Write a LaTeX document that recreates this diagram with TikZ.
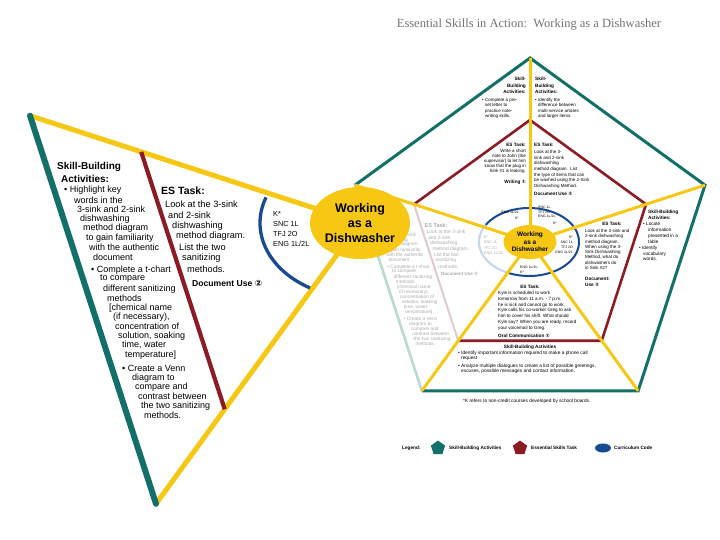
\documentclass[tikz,border=0pt]{standalone}
\usepackage{fontspec}
\setmainfont{Liberation Sans}
\newfontfamily\titlefont{Liberation Serif}
\newfontfamily\symfont{DejaVu Sans}
\usetikzlibrary{shapes.geometric}

\definecolor{sbteal}{RGB}{18,112,104}
\definecolor{estred}{RGB}{140,28,36}
\definecolor{spoke}{RGB}{246,200,20}
\definecolor{codeblue}{RGB}{24,74,148}
\definecolor{tealfade}{RGB}{185,218,212}
\definecolor{redfade}{RGB}{226,202,204}
\definecolor{bluefade}{RGB}{196,214,232}
\definecolor{textfade}{RGB}{172,172,172}

\newcommand{\circnum}[1]{{\symfont #1}}
\newcommand{\sbskip}{0}% lines of the sector text hidden under the big hub

\tikzset{
  tealline/.style={draw=sbteal, line width=3pt},
  redline/.style={draw=estred, line width=2.6pt},
  spokeline/.style={draw=spoke, line width=3pt},
  edgeteal/.style={draw=sbteal, line width=6pt, line cap=round},
  edgered/.style={draw=estred, line width=4.2pt},
  edgeyellow/.style={draw=spoke, line width=5pt},
  sbline/.style={anchor=west, inner sep=0pt, font=\fontsize{9}{10}\selectfont},
  esline/.style={anchor=west, inner sep=0pt, font=\fontsize{9.2}{11}\selectfont},
  codeline/.style={inner sep=0pt, font=\fontsize{7.3}{10}\selectfont},
  tiny/.style={inner sep=0pt, font=\fontsize{4.5}{5.3}\selectfont},
  tinyb/.style={inner sep=0pt, font=\bfseries\fontsize{4.7}{6.5}\selectfont},
  code/.style={inner sep=0pt, font=\fontsize{3.5}{5}\selectfont},
  hub/.style={ellipse, fill=spoke, inner sep=0pt, align=center},
  legendshape/.style={fill=#1, inner sep=0pt},
}

% corners of the magnified sector
\newcommand{\sectorcoords}{%
  \coordinate (wT) at (30,115.7);
  \coordinate (wB) at (156,503.8);
  \coordinate (wR1) at (141.2,151.9);
  \coordinate (wR2) at (224.7,409.2);
}

% one sector of the pentagon: drawn big in the wedge and faded in place
\newcommand{\sectorbody}{%
  \sectorcoords
  \draw[edgeteal] (wT) -- (wB);
  \draw[edgered] (wR1) -- (wR2);
  \foreach \x/\y/\t [count=\i] in {57/167/{\bfseries\fontsize{10}{12}\selectfont Skill-Building},
      61/179/{\bfseries\fontsize{10}{12}\selectfont Activities:},
      64/190/{• Highlight key}, 74/200/{words in the}, 77/209/{3-sink and 2-sink},
      80/219/{dishwashing}, 83/228/{method diagram}, 86/238/{to gain familiarity},
      89/247/{with the authentic}, 93/257/{document},
      91/270/{• Complete a t-chart}, 100/279/{to compare}, 103/289/{different sanitizing},
      107/298/{methods}, 109/308/{[chemical name}, 113/317/{(if necessary),},
      115/326/{concentration of}, 118/336/{solution, soaking}, 122/345/{time, water},
      125/355/{temperature]},
      122/368/{• Create a Venn}, 132/378/{diagram to}, 135/387/{compare and},
      138/396/{contrast between}, 141/406/{the two sanitizing}, 144/415/{methods.}}
    {\ifnum\i>\sbskip\relax \node[sbline] (sb\i) at (\x,\y) {\t};\fi}
  \node[esline, font=\bfseries\fontsize{10.5}{12}\selectfont] (eshead) at (161,191) {ES Task:};
  \foreach \x/\y/\t [count=\i] in {165/204/{Look at the 3-sink}, 168/215/{and 2-sink},
      172/226/{dishwashing}, 176/236/{method diagram.}, 179/247/{List the two},
      182/258/{sanitizing}, 187/269/{methods.}}
    \node[esline] (es\i) at (\x,\y) {\t};
  \node[esline, font=\bfseries\fontsize{8.6}{10}\selectfont] (esuse) at (192,283) {Document Use \circnum{②}};
  \node[codeline, anchor=north west, align=left] (codes) at (273,211) {K*\\SNC 1L\\TFJ 2O\\ENG 1L/2L};
}

\begin{document}
\begin{tikzpicture}[x=1pt, y=-1pt]
  \useasboundingbox (0,0) rectangle (720,540);
  \fill[white] (0,0) rectangle (720,540);
  \coordinate (C) at (530,242);
  \coordinate (A) at (360,223);
  \foreach \k in {0,...,4}{
    \coordinate (P\k) at ({530+184*cos(90+72*\k)},{242-184*sin(90+72*\k)});
    \coordinate (Q\k) at ({530+122*cos(90+72*\k)},{242-122*sin(90+72*\k)});
  }

  % faded copy of the magnified sector
  \begin{scope}[shift={(339.1,123.8)}, scale=0.5302, transform shape, name prefix=sm-,
      edgeteal/.style={draw=tealfade, line width=2.6pt},
      edgered/.style={draw=redfade, line width=2pt},
      every node/.append style={text=textfade}]
    \renewcommand{\sbskip}{4}
    \sectorbody
  \end{scope}

  % pentagon
  \draw[tealline] (P1) -- (P0) -- (P4) -- (P3) -- (P2);
  \draw[redline] (Q1) -- (Q0) -- (Q4) -- (Q3) -- (Q2);
  \draw[codeblue, line width=2pt] plot[domain=210:476, samples=90] ({529+50*cos(\x)},{242+34*sin(\x)});
  \draw[bluefade, line width=2pt] plot[domain=116:210, samples=40] ({529+50*cos(\x)},{242+34*sin(\x)});
  \foreach \k in {0,...,4}
    \draw[spokeline] (C) -- (P\k);
  \node[hub, minimum width=53, minimum height=34, font=\bfseries\fontsize{6.5}{7.5}\selectfont] (hub) at (C) {Working\\as a\\Dishwasher};

  % magnified sector
  \sectorcoords
  \draw[edgeyellow] (A) -- (wT);
  \draw[edgeyellow] (A) -- (wB);
  \draw[codeblue, line width=3.3pt] plot[domain=120:200, samples=40] ({360+100*cos(\x)},{223+75*sin(\x)});
  \sectorbody
  \node[hub, minimum width=100, minimum height=72, font=\bfseries\fontsize{12.5}{15}\selectfont] (bighub) at (A) {Working\\as a\\Dishwasher};

  % texts in the pentagon
  \node[tinyb, anchor=north east, align=right] (tlsb) at (526,77) {Skill-\\Building\\Activities:};
  \node[tiny, anchor=north west, align=left] (tlsbtxt) at (482,98) {• Complete a pre-\\\phantom{•~}set letter to\\\phantom{•~}practice note-\\\phantom{•~}writing skills.};
  \node[tinyb, anchor=north west, align=left] (trsb) at (535,77) {Skill-\\Building\\Activities:};
  \node[tiny, anchor=north west, align=left] (trsbtxt) at (535,98) {• Identify the\\\phantom{•~}difference between\\\phantom{•~}multi-service articles\\\phantom{•~}and larger items.};

  \node[tinyb, anchor=north east] (tles) at (526,143) {ES Task:};
  \node[tiny, anchor=north east, align=right, font=\fontsize{4.5}{4.9}\selectfont] (tlestxt) at (526,149) {Write a short\\note to John (the\\supervisor) to let him\\know that the plug in\\Sink \#1 is leaking.};
  \node[tinyb, anchor=north east] (tlesuse) at (526,180) {Writing \circnum{①}};
  \node[tinyb, anchor=north west] (tres) at (534,143) {ES Task:};
  \node[tiny, anchor=north west, align=left, font=\fontsize{4.5}{5.7}\selectfont] (trestxt) at (534,150) {Look at the 3-\\sink and 2-sink\\dishwashing\\method diagram.\ \ List\\the type of items that can\\be washed using the 2-Sink\\Dishwashing Method.};
  \node[tinyb, anchor=north west] (tresuse) at (534,192) {Document Use \circnum{②}};

  \foreach \x/\y/\t [count=\i] in {648/212/{\bfseries Skill-Building}, 648/218/{\bfseries Activities:},
      643/224/{• Locate}, 648/230/{information}, 648/236/{presented in a}, 648/242/{table},
      639/248/{• Identify}, 643/254/{vocabulary}, 643/259/{words.}}
    \node[tiny, anchor=west, font=\fontsize{4.7}{5.5}\selectfont] (rsb\i) at (\x,\y) {\t};
  \node[tinyb] (res) at (612,224) {ES Task:};
  \node[tiny, anchor=north west, align=left] (restxt) at (585,229) {Look at the 3-sink and\\2-sink dishwashing\\method diagram.\\When using the 3-\\Sink Dishwashing\\Method, what do\\dishwashers do\\in Sink \#2?};
  \node[tinyb, anchor=north west, align=left, font=\bfseries\fontsize{4.7}{6}\selectfont] (resuse) at (585,277) {Document:\\Use \circnum{②}};

  \node[tinyb] (bes) at (530,287) {ES Task:};
  \node[tiny, anchor=north west, align=left, font=\fontsize{4.6}{5.8}\selectfont] (bestxt) at (498,291) {Kyle is scheduled to work\\tomorrow from 11 a.m. - 7 p.m.\\he is sick and cannot go to work.\\Kyle calls his co-worker Greg to ask\\him to cover his shift. What should\\Kyle say? When you are ready, record\\your voicemail to Greg.};
  \node[tinyb, anchor=west] (besuse) at (498,336) {Oral Communication \circnum{②}};
  \node[tinyb] (bsb) at (530,347) {Skill-Building Activities};
  \node[tiny, anchor=north west, align=left, font=\fontsize{4.8}{5.2}\selectfont] (bsb1) at (458,351) {• Identify important information required to make a phone call\\\phantom{•~}request};
  \node[tiny, anchor=north west, align=left, font=\fontsize{4.8}{5.2}\selectfont] (bsb2) at (458,364) {• Analyze multiple dialogues to create a list of possible greetings,\\\phantom{•~}excuses, possible messages and contact information.};

  % course codes round the hub
  \node[code, anchor=north east, align=right, font=\fontsize{3.5}{5.5}\selectfont] (cc1) at (519,211) {ENG 1L/2L\\K*};
  \node[code, anchor=north west, align=left, font=\fontsize{3.5}{4.6}\selectfont] (cc2) at (538,206) {SNC 1L\\TFJ 2O\\ENG 1L/2L};
  \node[code] (cc3) at (555,223) {K*};
  \node[code, anchor=north east, align=right] (cc4) at (573,236) {K*\\SNC 1L\\TFJ 2O\\ENG 1L/2L};
  \node[code, anchor=north west, align=left] (cc5) at (520,266) {ENG 1L/2L\\K*};

  % footnote, legend, title
  \node[tiny, anchor=west, font=\fontsize{4.8}{5.5}\selectfont] (note) at (463,401) {*K refers to non-credit courses developed by school boards.};
  \node[tinyb, anchor=west] (lg) at (402,448) {Legend:};
  \node[legendshape=sbteal, regular polygon, regular polygon sides=5, minimum size=15] (lgsb) at (438,448) {};
  \node[tinyb, anchor=west] (lgsbt) at (449,448) {Skill-Building Activities};
  \node[legendshape=estred, regular polygon, regular polygon sides=5, minimum size=15] (lges) at (520,448) {};
  \node[tinyb, anchor=west] (lgest) at (531,448) {Essential Skills Task};
  \node[legendshape=codeblue, ellipse, minimum width=16, minimum height=9] (lgcc) at (603,448) {};
  \node[tinyb, anchor=west] (lgcct) at (614,448) {Curriculum Code};
  \node[font=\titlefont\fontsize{12.5}{14}\selectfont, text=black!55] (title) at (529,25) {Essential Skills in Action:\ \ Working as a Dishwasher};
\end{tikzpicture}
\end{document}
